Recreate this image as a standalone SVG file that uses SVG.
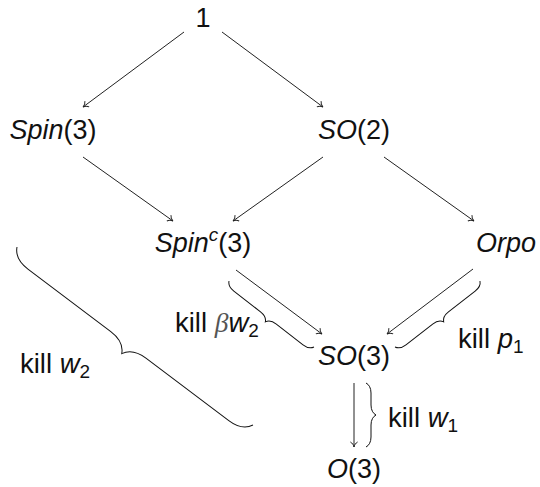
<svg xmlns="http://www.w3.org/2000/svg" width="540" height="487" viewBox="0 0 540 487">
<defs>
<style>
text{font-family:"Liberation Sans",Arial,sans-serif;font-size:27px;fill:#111}
.it{font-style:italic}
.sub{font-size:19px}
.lbl{font-size:27.5px}
.beta{font-family:"Liberation Serif","Times New Roman",serif;font-style:italic;fill:#555}
.arr{stroke:#222;stroke-width:1;fill:none;marker-end:url(#to)}
.brace{stroke:#111;stroke-width:1;fill:none}
</style>
<marker id="to" markerUnits="userSpaceOnUse" markerWidth="12" markerHeight="12" viewBox="-6 -6 12 12" refX="0" refY="0" orient="auto">
<path d="M-5,-3.6 C-4,-1.6 -1.6,-0.3 0,0 C-1.6,0.3 -4,1.6 -5,3.6" stroke="#222" stroke-width="1" fill="none"/>
</marker>
</defs>
<rect width="540" height="487" fill="#fff"/>
<g id="connectors">
<line class="arr" x1="184" y1="32" x2="83" y2="107"/>
<line class="arr" x1="222" y1="32" x2="323" y2="107"/>
<line class="arr" x1="83" y1="157" x2="173" y2="221"/>
<line class="arr" x1="323" y1="157" x2="233" y2="221"/>
<line class="arr" x1="384" y1="157" x2="474" y2="221"/>
<line class="arr" x1="236" y1="270" x2="322" y2="334"/>
<line class="arr" x1="473" y1="269" x2="387" y2="334"/>
<line class="arr" x1="354" y1="383" x2="354" y2="447"/>
</g>
<g id="node-1"><text x="203" y="27" text-anchor="middle">1</text></g>
<g id="node-spin3"><text x="53" y="139" text-anchor="middle"><tspan class="it">Spin</tspan>(3)</text></g>
<g id="node-so2"><text x="354" y="139" text-anchor="middle"><tspan class="it">SO</tspan>(2)</text></g>
<g id="node-spinc3"><text x="203" y="252" text-anchor="middle"><tspan class="it">Spin</tspan><tspan class="it sub" dy="-11">c</tspan><tspan dy="11">(3)</tspan></text></g>
<g id="node-orpo"><text x="506" y="252" text-anchor="middle" class="it">Orpo</text></g>
<g id="node-so3"><text x="354" y="365" text-anchor="middle"><tspan class="it">SO</tspan>(3)</text></g>
<g id="node-o3"><text x="354" y="478" text-anchor="middle"><tspan class="it">O</tspan>(3)</text></g>
<g id="brace-w2">
<path class="brace" transform="translate(17,247) rotate(37.03)" d="M0,0 C3.3,6.6 11,11 22,11 L125.8,11 C136.8,11 144.5,15.4 147.8,22 C151.1,15.4 158.8,11 169.8,11 L273.6,11 C284.6,11 292.3,6.6 295.6,0"/>
<text class="lbl" x="20" y="373">kill <tspan class="it">w</tspan><tspan class="sub" dy="5">2</tspan></text>
</g>
<g id="brace-bw2">
<path class="brace" transform="translate(229,281) rotate(37.83)" d="M0,0 C1.5,3 5,5 10,5 L43.8,5 C48.8,5 52.3,7 53.8,10 C55.3,7 58.8,5 63.8,5 L97.6,5 C102.6,5 106.1,3 107.6,0"/>
<text class="lbl" x="175" y="332">kill <tspan class="beta">β</tspan><tspan class="it">w</tspan><tspan class="sub" dy="5">2</tspan></text>
</g>
<g id="brace-p1">
<path class="brace" transform="translate(395,347) rotate(-37.83)" d="M0,0 C1.5,3 5,5 10,5 L43.8,5 C48.8,5 52.3,7 53.8,10 C55.3,7 58.8,5 63.8,5 L97.6,5 C102.6,5 106.1,3 107.6,0"/>
<text class="lbl" x="458" y="348">kill <tspan class="it">p</tspan><tspan class="sub" dy="5">1</tspan></text>
</g>
<g id="brace-w1">
<path class="brace" transform="translate(366,447) rotate(-90)" d="M0,0 C1.5,3 5,5 10,5 L22,5 C27,5 30.5,7 32,10 C33.5,7 37,5 42,5 L54,5 C59,5 62.5,3 64,0"/>
<text class="lbl" x="388" y="427">kill <tspan class="it">w</tspan><tspan class="sub" dy="5">1</tspan></text>
</g>
</svg>
